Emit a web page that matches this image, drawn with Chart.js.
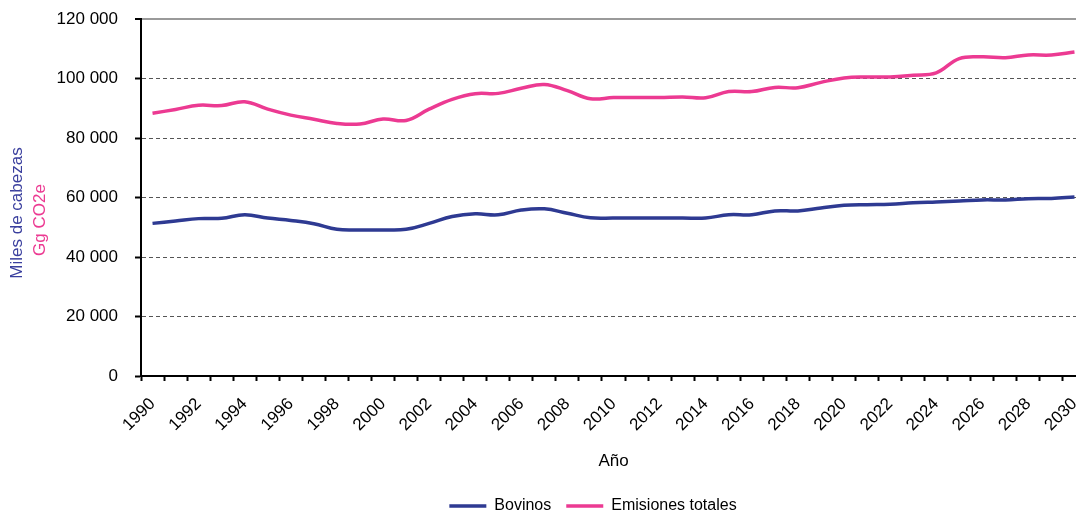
<!DOCTYPE html>
<html>
<head>
<meta charset="utf-8">
<title>Bovinos y emisiones totales</title>
<script src="https://cdn.jsdelivr.net/npm/chart.js@4.4.1/dist/chart.umd.min.js"></script>
<style>
  html, body { margin: 0; padding: 0; background: #fff; overflow: hidden; }
  #marco { width: 1090px; height: 524px; }
</style>
</head>
<body>
<div id="marco"><canvas id="grafico" width="1090" height="524"></canvas></div>

<script>
// años del eje x
const anios = ['1990', '1991', '1992', '1993', '1994', '1995', '1996', '1997', '1998', '1999',
               '2000', '2001', '2002', '2003', '2004', '2005', '2006', '2007', '2008', '2009',
               '2010', '2011', '2012', '2013', '2014', '2015', '2016', '2017', '2018', '2019',
               '2020', '2021', '2022', '2023', '2024', '2025', '2026', '2027', '2028', '2029',
               '2030'];

// miles de cabezas
const bovinos = [51300, 52100, 52900, 53000, 54200, 53100, 52300, 51200, 49300, 49100,
                 49100, 49300, 51300, 53600, 54500, 54200, 55800, 56200, 54700, 53200,
                 53100, 53100, 53100, 53100, 53100, 54200, 54200, 55500, 55500, 56500,
                 57400, 57600, 57700, 58200, 58500, 58800, 59200, 59200, 59600, 59700,
                 60200];

// Gg CO2e
const emisiones = [88300, 89600, 91000, 90900, 92200, 89700, 87700, 86300, 84900, 84700,
                   86400, 85900, 89700, 93000, 94900, 95000, 96700, 98000, 95900, 93200,
                   93600, 93600, 93600, 93800, 93500, 95600, 95600, 97000, 96900, 98700,
                   100200, 100500, 100500, 101100, 101900, 106700, 107300, 107000, 107900, 107900,
                   108900];

const yTicks = [0, 20000, 40000, 60000, 80000, 100000, 120000];

const AZUL = '#2E3A92';
const ROSA = '#EC3A92';
const FUENTE = '"Liberation Sans", Arial, sans-serif';

function miles(v) {
  return String(v).replace(/\B(?=(\d{3})+(?!\d))/g, ' ');
}

// titulos del eje y (dos colores) y ajuste de la leyenda
const extras = {
  id: 'extras',
  afterLayout(chart) {
    const lg = chart.legend;
    lg.left += 50;
    lg.right += 50;
  },
  afterDraw(chart) {
    const ctx = chart.ctx;
    ctx.save();
    ctx.font = '17px ' + FUENTE;
    ctx.textAlign = 'center';
    ctx.textBaseline = 'middle';
    ctx.translate(17, 213);
    ctx.rotate(-Math.PI / 2);
    ctx.fillStyle = '#3A3F9E';
    ctx.fillText('Miles de cabezas', 0, 0);
    ctx.restore();

    ctx.save();
    ctx.font = '17px ' + FUENTE;
    ctx.textAlign = 'center';
    ctx.textBaseline = 'middle';
    ctx.translate(40, 220);
    ctx.rotate(-Math.PI / 2);
    ctx.fillStyle = ROSA;
    ctx.fillText('Gg CO2e', 0, 0);
    ctx.restore();
  }
};

const ctx = document.getElementById('grafico').getContext('2d');

new Chart(ctx, {
  type: 'line',
  data: {
    labels: anios,
    datasets: [
      {
        label: 'Bovinos',
        data: bovinos,
        borderColor: AZUL,
        backgroundColor: AZUL,
        borderWidth: 3.5,
        pointRadius: 0,
        tension: 0.4,
        fill: false
      },
      {
        label: 'Emisiones totales',
        data: emisiones,
        borderColor: ROSA,
        backgroundColor: ROSA,
        borderWidth: 3.5,
        pointRadius: 0,
        tension: 0.4,
        fill: false
      }
    ]
  },
  options: {
    responsive: false,
    animation: false,
    layout: {
      autoPadding: false,
      padding: { top: 19, right: 4, bottom: 0, left: 0 }
    },
    plugins: {
      tooltip: { enabled: false },
      legend: {
        position: 'bottom',
        labels: {
          color: '#000',
          font: { family: FUENTE, size: 16 },
          boxWidth: 37,
          boxHeight: 0,
          padding: 15
        }
      }
    },
    scales: {
      x: {
        offset: true,
        afterFit: s => {
          s.height = 107;
          s.paddingLeft = 0;
          s.paddingRight = 0;
        },
        grid: {
          offset: true,
          drawOnChartArea: false,
          drawTicks: true,
          tickLength: 5,
          tickColor: '#000',
          tickWidth: 2
        },
        border: { display: true, color: '#000', width: 2 },
        ticks: {
          autoSkip: false,
          minRotation: 45,
          maxRotation: 45,
          padding: 13,
          color: '#000',
          font: { family: FUENTE, size: 17 },
          callback: function (v, i) { return i % 2 === 0 ? anios[i] : ''; }
        },
        title: {
          display: true,
          text: 'Año',
          color: '#000',
          font: { family: FUENTE, size: 17 },
          padding: { top: 0, bottom: 11 }
        }
      },
      y: {
        min: 0,
        max: 120000,
        afterFit: s => {
          s.width = 141;
          s.paddingTop = 0;
          s.paddingBottom = 0;
        },
        afterBuildTicks: s => { s.ticks = yTicks.map(v => ({ value: v })); },
        grid: {
          color: c => c.tick.value === 0 ? 'rgba(0,0,0,0)' : (c.tick.value === 120000 ? '#9a9a9a' : '#555'),
          lineWidth: c => c.tick.value === 120000 ? 2 : 1,
          drawTicks: true,
          tickLength: 6,
          tickColor: '#000',
          tickWidth: 2,
          tickBorderDash: []
        },
        border: {
          display: true,
          color: '#000',
          width: 2,
          dash: c => c.tick && c.tick.value === 120000 ? [] : [4, 3]
        },
        ticks: {
          padding: 17,
          color: '#000',
          font: { family: FUENTE, size: 17 },
          callback: v => miles(v)
        }
      }
    }
  },
  plugins: [extras]
});
</script>
</body>
</html>
